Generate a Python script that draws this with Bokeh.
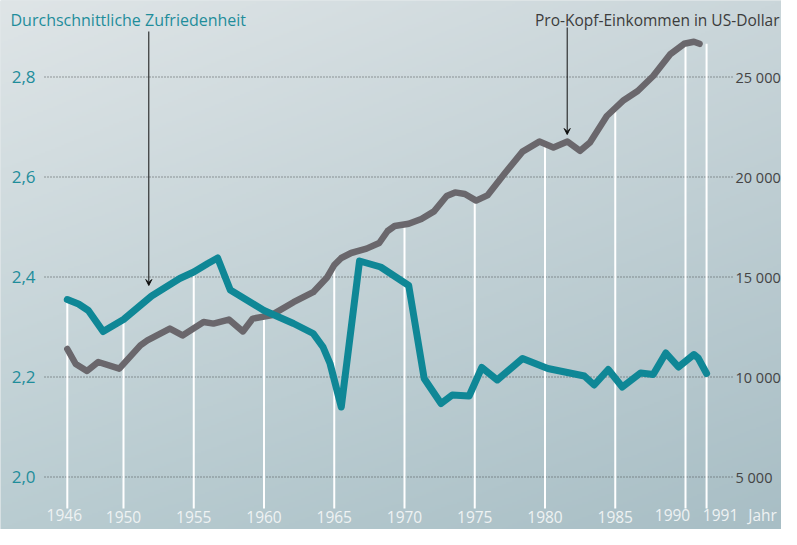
import numpy as np
from bokeh.plotting import figure
from bokeh.models import Range1d, Arrow, VeeHead, LabelSet, ColumnDataSource
from bokeh.core.properties import value
from bokeh.embed import file_html
from bokeh.resources import INLINE

# ---------------- data ----------------
sat_years = [1946.0, 1946.8, 1947.5, 1948.55, 1950.0, 1952.0, 1954.0, 1955.0, 1956.0, 1956.7,
             1957.6, 1960.0, 1962.1, 1963.5, 1964.2, 1964.7, 1965.5, 1966.8, 1968.3, 1970.3,
             1971.4, 1972.6, 1973.4, 1974.6, 1975.5, 1976.6, 1978.4, 1980.2, 1982.8, 1983.5,
             1984.5, 1985.5, 1986.8, 1987.7, 1988.6, 1989.5, 1990.6, 1990.9, 1991.5]
sat_values = [2.355, 2.346, 2.333, 2.291, 2.315, 2.362, 2.397, 2.410, 2.427, 2.438,
              2.374, 2.333, 2.307, 2.287, 2.260, 2.227, 2.140, 2.432, 2.420, 2.383,
              2.197, 2.147, 2.164, 2.162, 2.219, 2.194, 2.237, 2.217, 2.202, 2.184,
              2.215, 2.180, 2.208, 2.205, 2.248, 2.220, 2.245, 2.238, 2.207]

inc_years = [1946.0, 1946.6, 1947.4, 1948.2, 1949.7, 1951.2, 1951.7, 1953.3, 1954.2, 1955.7,
             1956.4, 1957.5, 1958.5, 1959.2, 1960.5, 1962.1, 1963.5, 1964.5, 1965.0, 1965.5,
             1966.2, 1967.3, 1968.2, 1968.8, 1969.3, 1970.3, 1971.2, 1972.1, 1973.0, 1973.6,
             1974.3, 1975.1, 1975.9, 1977.1, 1978.4, 1979.6, 1980.6, 1981.6, 1982.5, 1983.2,
             1984.4, 1985.6, 1986.6, 1987.7, 1988.9, 1989.9, 1990.6, 1991.0]
inc_values = [11400, 10650, 10300, 10750, 10420, 11580, 11830, 12420, 12080, 12750,
              12670, 12870, 12280, 12920, 13080, 13740, 14240, 14990, 15600, 15950,
              16200, 16420, 16700, 17300, 17550, 17660, 17900, 18280, 19050, 19230,
              19150, 18820, 19080, 20150, 21270, 21770, 21470, 21770, 21310, 21720,
              23050, 23840, 24300, 25050, 26130, 26660, 26760, 26660]

sat_ticks = [2.0, 2.2, 2.4, 2.6, 2.8]
sat_tick_labels = ["2,0", "2,2", "2,4", "2,6", "2,8"]
inc_ticks = [5000, 10000, 15000, 20000, 25000]
inc_tick_labels = ["5 000", "10 000", "15 000", "20 000", "25 000"]
year_marks = [1946, 1950, 1955, 1960, 1965, 1970, 1975, 1980, 1985, 1990, 1991.5]
year_labels = ["1946", "1950", "1955", "1960", "1965", "1970", "1975", "1980", "1985", "1990", "1991"]
x_unit_label = "Jahr"
title_left = "Durchschnittliche Zufriedenheit"
title_right = "Pro-Kopf-Einkommen in US-Dollar"

# ---------------- layout / scales ----------------
W, H = 781, 529
PX_YEAR = 14.05      # px per year
X0_PX = 66.8         # canvas x of 1946
Y2_PX = 476.5        # canvas y (from top) of satisfaction 2.0
PX_UNIT = 500.0      # px per 1.0 satisfaction

x_lo = 1946 - X0_PX / PX_YEAR
x_hi = x_lo + W / PX_YEAR
y_hi = 2.0 + Y2_PX / PX_UNIT
y_lo = y_hi - H / PX_UNIT


def to_inc(s):
    return 5000 + (s - 2.0) * 25000


def to_sat(i):
    return 2.0 + (np.asarray(i, float) - 5000) / 25000


def xpx(px):
    return x_lo + px / PX_YEAR


def ypx(py):
    return y_hi - py / PX_UNIT


TEAL = "#0f8796"
GRAY = "#6a676c"
TEAL_TEXT = "#1f8d9b"
DARK_TEXT = "#444444"
LIGHT_TEXT = "#eef2f3"
FONT = value("Open Sans")

p = figure(width=W, height=H, output_backend="svg", toolbar_location=None,
           x_range=Range1d(x_lo, x_hi), y_range=Range1d(y_lo, y_hi),
           x_axis_location=None, y_axis_location=None, min_border=0,
           outline_line_color=None, border_fill_color="#c5d2d6",
           background_fill_color="#c5d2d6")
p.extra_y_ranges = {"income": Range1d(to_inc(y_lo), to_inc(y_hi))}
p.xgrid.visible = False
p.ygrid.visible = False

# ---------------- background gradient ----------------
gw, gh = 400, 270
t = np.linspace(0, 1, gw)[None, :]
s = np.linspace(0, 1, gh)[:, None]


def hexrgb(h):
    return np.array([int(h[i:i + 2], 16) for i in (1, 3, 5)], float)


TL, TR, BL, BR = hexrgb("#dfe5e7"), hexrgb("#cad6da"), hexrgb("#b9ccd1"), hexrgb("#a8bec5")
rgb = (((1 - t) * s)[..., None] * TL + (t * s)[..., None] * TR
       + ((1 - t) * (1 - s))[..., None] * BL + (t * (1 - s))[..., None] * BR)
img = np.empty((gh, gw), dtype=np.uint32)
view = img.view(dtype=np.uint8).reshape((gh, gw, 4))
view[..., :3] = np.clip(rgb, 0, 255).astype(np.uint8)
view[..., 3] = 255
p.image_rgba(image=[img], x=x_lo, y=y_lo, dw=x_hi - x_lo, dh=y_hi - y_lo)

# ---------------- dotted grid ----------------
gx0, gx1 = xpx(44), xpx(733)
p.segment(x0=[gx0] * len(sat_ticks), x1=[gx1] * len(sat_ticks), y0=sat_ticks, y1=sat_ticks,
          line_color="#474b4d", line_width=1, line_dash="1 2")

# ---------------- white year markers ----------------
sat_at = np.interp(year_marks, sat_years, sat_values)
inc_at = to_sat(np.interp(year_marks, inc_years, inc_values))
tops = np.maximum(sat_at, inc_at)
p.segment(x0=year_marks, x1=year_marks, y0=[ypx(508)] * len(year_marks), y1=list(tops),
          line_color="white", line_width=2)

# ---------------- series ----------------
p.line(inc_years, inc_values, y_range_name="income", line_color=GRAY, line_width=6.5,
       line_join="round", line_cap="round")
p.line(sat_years, sat_values, line_color=TEAL, line_width=7,
       line_join="round", line_cap="round")


# ---------------- text (annotations) ----------------
def labels(xs, ys, texts, size, color, align, baseline, y_range_name="default", dx=None):
    src = ColumnDataSource(dict(x=list(xs), y=list(ys), text=list(texts),
                                dx=list(dx) if dx is not None else [0] * len(texts)))
    ls = LabelSet(x="x", y="y", text="text", x_offset="dx", source=src,
                  text_font=FONT, text_font_size=value(size), text_color=value(color),
                  text_align=value(align), text_baseline=value(baseline),
                  y_range_name=y_range_name)
    p.add_layout(ls)


labels([xpx(35)] * len(sat_ticks), sat_ticks, sat_tick_labels, "17px", TEAL_TEXT,
       "right", "middle")
labels([xpx(735)] * len(inc_ticks), inc_ticks, inc_tick_labels, "14.5px", DARK_TEXT,
       "left", "middle", y_range_name="income")

lab_dx = [-3, 0, 0, 0, 0, 0, 0, 0, 0, -13, 14, 56]
lab_base = [520, 522, 522, 522, 522, 522, 522, 522, 522, 520, 520, 520]
labels(year_marks + [year_marks[-1]], [ypx(b) for b in lab_base],
       year_labels + [x_unit_label], "15.5px", LIGHT_TEXT, "center", "alphabetic",
       dx=lab_dx)

labels([xpx(10)], [ypx(25)], [title_left], "16px", TEAL_TEXT, "left", "alphabetic")
labels([xpx(779)], [ypx(25)], [title_right], "15.5px", "#3c3c3c", "right", "alphabetic")

# ---------------- arrows ----------------
for ax, ay0, ay1 in [(xpx(148.3), ypx(31), ypx(285)), (xpx(566.7), ypx(27), ypx(134))]:
    p.add_layout(Arrow(end=VeeHead(size=6, line_color="#111111", line_width=1),
                       x_start=ax, y_start=ay0, x_end=ax, y_end=ay1,
                       line_color="#111111", line_width=1))

open("out.html", "w").write(file_html(p, INLINE))
